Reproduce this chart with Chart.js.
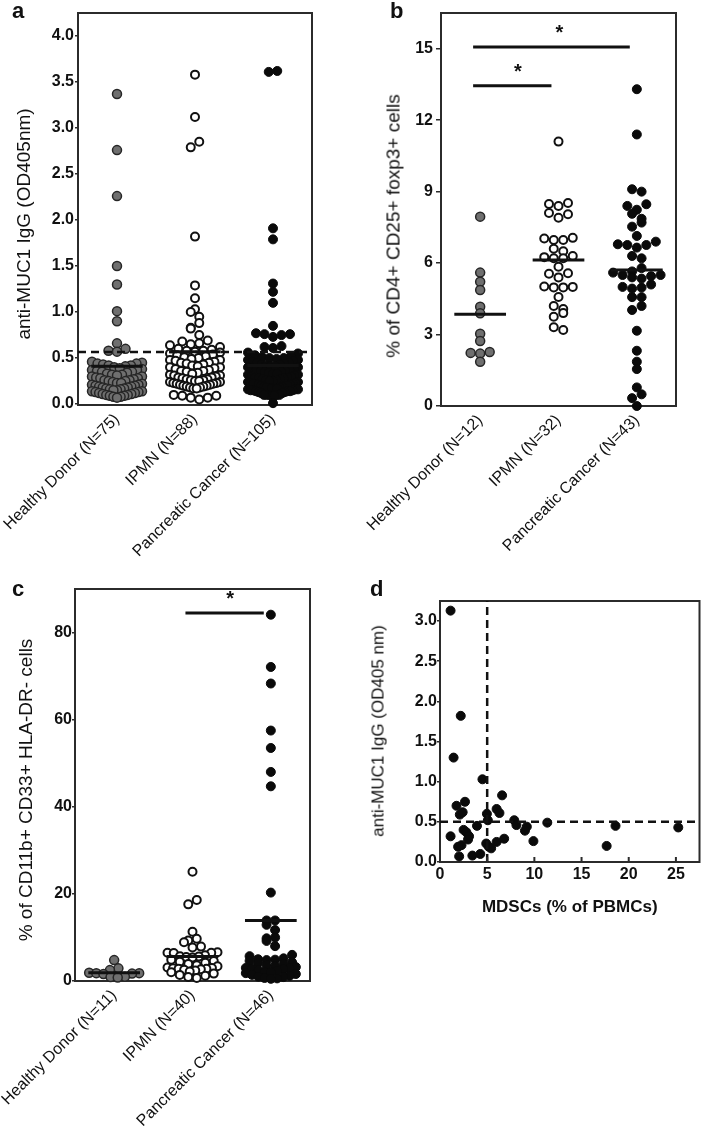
<!DOCTYPE html>
<html>
<head>
<meta charset="utf-8">
<title>Anti-MUC1 IgG, Treg and MDSC panels</title>
<script src="https://cdn.jsdelivr.net/npm/chart.js@4.4.1/dist/chart.umd.min.js"></script>
<style>
  body { margin: 0; background: #fff; }
  #fig { position: relative; width: 705px; height: 1133px; overflow: hidden; font-family: 'Liberation Sans', Arial, sans-serif; color: #111; }
  #fig canvas { position: absolute; }
  .tag { position: absolute; font-weight: bold; font-size: 22px; line-height: 22px; }
  .yt { position: absolute; white-space: nowrap; line-height: 1; transform: translate(-50%, -50%) rotate(-90deg); }
</style>
</head>
<body>
<div id="fig">
  <canvas id="pa" width="340" height="560" style="left:0;top:0"></canvas>
  <canvas id="pb" width="355" height="560" style="left:350px;top:0"></canvas>
  <canvas id="pc" width="340" height="563" style="left:0;top:570px"></canvas>
  <canvas id="pd" width="355" height="360" style="left:350px;top:570px"></canvas>

  <div class="tag" style="left:12px;top:0">a</div>
  <div class="tag" style="left:390px;top:0">b</div>
  <div class="tag" style="left:12px;top:578px">c</div>
  <div class="tag" style="left:370px;top:578px">d</div>

  <div class="yt" style="left:23px;top:224px;font-size:19px">anti-MUC1 IgG (OD405nm)</div>
  <div class="yt" style="left:393px;top:226px;font-size:19px">% of CD4+ CD25+ foxp3+ cells</div>
  <div class="yt" style="left:25px;top:790px;font-size:19px">% of CD11b+ CD33+ HLA-DR- cells</div>
  <div class="yt" style="left:378px;top:731px;font-size:17px">anti-MUC1 IgG (OD405 nm)</div>
</div>
<script>
const FONT = "'Liberation Sans', Arial, sans-serif";
const INK = '#111';

// ---- panel a: anti-MUC1 IgG by group
const catsA = ['Healthy Donor (N=75)', 'IPMN (N=88)', 'Pancreatic Cancer (N=105)'];
const healthyA = [3.37, 2.76, 2.26, 1.50, 1.30, 1.01, 0.90, 0.66, 0.60, 0.58, 0.57,
  0.46, 0.45, 0.44, 0.44, 0.43, 0.42, 0.42, 0.41, 0.40, 0.39, 0.38, 0.37, 0.37, 0.36, 0.35, 0.35,
  0.34, 0.33, 0.32, 0.32, 0.31, 0.30, 0.30, 0.29, 0.28, 0.28, 0.27, 0.26, 0.26, 0.25, 0.25, 0.24,
  0.23, 0.23, 0.22, 0.21, 0.21, 0.20, 0.20, 0.19, 0.19, 0.18, 0.18, 0.17, 0.17, 0.16, 0.16, 0.15,
  0.15, 0.14, 0.14, 0.13, 0.13, 0.12, 0.12, 0.11, 0.11, 0.10, 0.10, 0.09, 0.09, 0.08, 0.08, 0.07];
const ipmnA = [3.58, 3.12, 2.85, 2.79, 1.82, 1.29, 1.15, 1.03, 1.00, 0.95, 0.88, 0.83, 0.82, 0.75,
  0.69, 0.68, 0.66, 0.65, 0.64, 0.62,
  0.60, 0.59, 0.58, 0.58, 0.57, 0.56, 0.55, 0.54, 0.53, 0.52, 0.51, 0.50, 0.49, 0.48, 0.48, 0.47,
  0.46, 0.45, 0.45, 0.44, 0.43, 0.42, 0.41, 0.40, 0.40, 0.39, 0.38, 0.37, 0.36, 0.36, 0.35, 0.34,
  0.33, 0.32, 0.31, 0.31, 0.30, 0.29, 0.29, 0.28, 0.27, 0.27, 0.26, 0.26, 0.25, 0.25, 0.24, 0.24,
  0.23, 0.23, 0.22, 0.22, 0.21, 0.21, 0.20, 0.20, 0.19, 0.19, 0.18, 0.18, 0.17, 0.17,
  0.10, 0.09, 0.07, 0.05, 0.07, 0.09];
const cancerA = [3.61, 3.62, 1.91, 1.79, 1.31, 1.22, 1.10, 0.85, 0.77, 0.76, 0.76, 0.75, 0.73,
  0.63, 0.62, 0.61, 0.56, 0.55, 0.53,
  0.52, 0.51, 0.50, 0.50, 0.49, 0.48, 0.48, 0.47, 0.46, 0.45, 0.45, 0.44, 0.43, 0.43, 0.42, 0.41,
  0.41, 0.40, 0.40, 0.39, 0.38, 0.38, 0.37, 0.36, 0.36, 0.35, 0.35, 0.34, 0.33, 0.33, 0.32, 0.32,
  0.31, 0.30, 0.30, 0.29, 0.29, 0.28, 0.28, 0.27, 0.27, 0.26, 0.26, 0.25, 0.25, 0.24, 0.24, 0.23,
  0.23, 0.22, 0.22, 0.22, 0.21, 0.21, 0.20, 0.20, 0.20, 0.19, 0.19, 0.18, 0.18, 0.18, 0.17, 0.17,
  0.17, 0.16, 0.16, 0.16, 0.15, 0.15, 0.15, 0.14, 0.14, 0.14, 0.13, 0.13, 0.12, 0.12,
  0.10, 0.10, 0.10, 0.09, 0.10, 0.09, 0.10, 0.01];
const centerA = [0.41, 0.57, 0.42];
const cutoffA = 0.565;
const yTicksA = [0, 0.5, 1.0, 1.5, 2.0, 2.5, 3.0, 3.5, 4.0];

// ---- panel b: Treg %
const catsB = ['Healthy Donor (N=12)', 'IPMN (N=32)', 'Pancreatic Cancer (N=43)'];
const healthyB = [7.95, 5.60, 5.22, 4.87, 4.17, 3.89, 3.03, 2.73, 2.23, 2.27, 2.20, 1.86];
const ipmnB = [11.1, 8.52, 8.48, 8.40, 8.10, 8.05, 7.90, 7.06, 7.03, 6.97, 6.97, 6.60, 6.50, 6.30,
  6.25, 6.20, 6.20, 5.85, 5.57, 5.55, 5.40, 5.02, 5.00, 4.98, 4.98, 4.58, 4.20, 4.07, 3.90, 3.75,
  3.31, 3.19];
const cancerB = [13.3, 11.4, 9.1, 9.0, 8.47, 8.4, 8.24, 8.07, 7.86, 7.7, 7.53, 7.14, 6.9, 6.79,
  6.76, 6.76, 6.65, 6.3, 6.2, 5.79, 5.65, 5.6, 5.5, 5.5, 5.45, 5.4, 5.35, 5.1, 5.0, 4.97, 4.93,
  4.57, 4.57, 4.2, 4.03, 3.16, 2.32, 1.86, 1.55, 0.78, 0.49, 0.33, 0.0];
const centerB = [3.85, 6.13, 5.71];
const sigBarsB = [[0.91, 1.91, 13.45], [0.91, 2.91, 15.07]];
const starsB = [[1.48, 14.19], [2.01, 15.83]];
const yTicksB = [0, 3, 6, 9, 12, 15];

// ---- panel c: MDSC %
const catsC = ['Healthy Donor (N=11)', 'IPMN (N=40)', 'Pancreatic Cancer (N=46)'];
const healthyC = [4.8, 2.9, 2.5, 1.9, 1.8, 1.8, 1.7, 1.6, 1.0, 0.9, 0.8];
const ipmnC = [25.1, 18.6, 17.6, 11.3, 9.7, 9.3, 8.9, 7.9, 7.7, 6.6, 6.5, 6.5, 6.4,
  5.9, 5.7, 5.6, 5.5, 5.4, 4.9, 4.6, 4.4, 4.2, 3.9, 3.6, 3.4, 3.1, 3.0, 2.9, 2.8, 2.8, 2.7, 2.6,
  2.4, 2.2, 2.0, 1.7, 1.4, 1.2, 0.9, 0.7];
const cancerC = [84.1, 72.1, 68.3, 57.5, 53.5, 48.0, 44.7, 20.3, 13.9, 13.9, 12.9, 11.7, 10.0,
  9.8, 9.2, 8.0, 6.0, 5.7,
  5.2, 5.0, 4.9, 4.8, 4.6, 4.3, 4.1, 3.9, 3.6, 3.4, 3.2, 3.0, 2.9, 2.8, 2.7, 2.5, 2.3, 2.1, 2.0,
  1.8, 1.6, 1.4, 1.2, 1.0, 0.9, 0.7, 0.6, 0.5];
const centerC = [1.9, 5.6, 13.9];
const sigBarsC = [[1.91, 2.91, 84.5]];
const starsC = [[2.48, 88.6]];
const yTicksC = [0, 20, 40, 60, 80];

// ---- panel d: MDSC vs anti-MUC1 IgG
const mdscD = [1.12, 2.2, 1.44, 4.5, 6.58, 2.65, 1.75, 2.1, 2.4, 4.97, 6.0, 6.3, 5.07, 7.87, 8.1,
  9.2, 9.0, 11.37, 3.92, 2.5, 2.8, 3.08, 1.12, 2.97, 6.8, 6.0, 4.9, 9.9, 2.28, 1.92, 5.17, 5.42,
  2.03, 3.43, 4.27, 17.66, 18.6, 25.25];
const iggD = [3.13, 1.82, 1.30, 1.03, 0.83, 0.75, 0.70, 0.59, 0.62, 0.60, 0.66, 0.61, 0.52, 0.52,
  0.46, 0.44, 0.39, 0.49, 0.45, 0.40, 0.37, 0.32, 0.32, 0.28, 0.29, 0.25, 0.23, 0.26, 0.21, 0.19,
  0.19, 0.17, 0.07, 0.08, 0.10, 0.20, 0.45, 0.43];
const cutXD = 5;
const cutYD = 0.5;
const xTicksD = [0, 5, 10, 15, 20, 25];
const yTicksD = [0, 0.5, 1.0, 1.5, 2.0, 2.5, 3.0];

Chart.defaults.font.family = FONT;
Chart.defaults.color = INK;

// healthy donor, IPMN, pancreatic cancer
const groupStyle = [
  { bg: '#6f6f6f', line: '#262626', bw: 1.5, r: 4.5 },
  { bg: '#ffffff', line: '#111111', bw: 2, r: 4 },
  { bg: '#0a0a0a', line: '#0a0a0a', bw: 1, r: 4.5 }
];

const frame = {
  id: 'frame',
  beforeDatasetsDraw(chart) {
    const { ctx, chartArea: a } = chart;
    ctx.save();
    ctx.strokeStyle = '#2b2b2b';
    ctx.lineWidth = 2;
    ctx.strokeRect(a.left, a.top, a.right - a.left, a.bottom - a.top);
    ctx.restore();
  }
};

function starPlugin(list) {
  return {
    id: 'stars',
    afterDatasetsDraw(chart) {
      const { ctx, scales } = chart;
      ctx.save();
      ctx.font = 'bold 20px ' + FONT;
      ctx.fillStyle = INK;
      ctx.textAlign = 'center';
      ctx.textBaseline = 'alphabetic';
      const m = ctx.measureText('*');
      const shift = (m.actualBoundingBoxAscent - m.actualBoundingBoxDescent) / 2;
      list.forEach(([x, y]) => ctx.fillText('*', scales.x.getPixelForValue(x), scales.y.getPixelForValue(y) + shift));
      ctx.restore();
    }
  };
}

function innerTicks(values) {
  return {
    id: 'innerTicks',
    afterDatasetsDraw(chart) {
      const { ctx, chartArea: a, scales } = chart;
      ctx.save();
      ctx.strokeStyle = '#2b2b2b';
      ctx.lineWidth = 2;
      values.forEach(v => {
        const x = scales.x.getPixelForValue(v);
        ctx.beginPath();
        ctx.moveTo(x, a.bottom);
        ctx.lineTo(x, a.bottom - 5);
        ctx.stroke();
      });
      ctx.restore();
    }
  };
}

function seg(pts, width, dash) {
  return {
    type: 'line', data: pts.map(([x, y]) => ({ x, y })),
    borderColor: INK, borderWidth: width, borderDash: dash || [], borderCapStyle: 'butt',
    pointRadius: 0, pointHoverRadius: 0, fill: false, tension: 0, order: 0, clip: false
  };
}

// column scatter layout: points with close values share a row, lowest value in
// the middle and higher ones outward (gives the chevron rows), squeezed to a max width
function swarm(chart, center, vals, o) {
  const xs = chart.scales.x, ys = chart.scales.y;
  const cx = xs.getPixelForValue(center);
  const idx = vals.map((v, i) => i).sort((a, b) => vals[a] - vals[b]);
  const rows = [];
  let cur = null;
  idx.forEach(i => {
    const py = ys.getPixelForValue(vals[i]);
    if (!cur || Math.abs(py - cur.y0) > o.rowH) {
      cur = { y0: py, items: [] };
      rows.push(cur);
    }
    cur.items.push(i);
  });
  const out = [];
  rows.forEach((r, ri) => {
    const n = r.items.length;
    const sp = n > 1 ? Math.min(o.step, 2 * o.maxHalf / (n - 1)) : 0;
    const side = ri % 2 ? 1 : -1;
    const slots = r.items.map((_, k) => (k - (n - 1) / 2) * sp)
      .sort((a, b) => (Math.abs(a) - Math.abs(b)) || side * (a - b));
    r.items.forEach((i, k) => {
      out[i] = { x: xs.getValueForPixel(cx + slots[k]), y: vals[i] };
    });
  });
  return out;
}

function yAxis(o) {
  return {
    type: 'linear', min: o.yMin, max: o.yMax,
    afterBuildTicks: s => { s.ticks = o.yTicks.map(v => ({ value: v })); },
    afterFit: s => { s.width = o.yWidth; s.paddingTop = 0; s.paddingBottom = 0; },
    grid: { drawOnChartArea: false, drawTicks: true, tickLength: o.tickLen, color: '#2b2b2b', lineWidth: 1.5 },
    border: { display: false },
    ticks: { padding: o.tickPad, color: INK, font: { size: 16, weight: 'bold' }, callback: o.yFmt }
  };
}

function dotChart(id, o) {
  const ds = [];
  o.groups.forEach((vals, g) => {
    const st = groupStyle[g];
    ds.push({
      type: 'scatter', data: vals.map(v => ({ x: g + 1, y: v })),
      backgroundColor: st.bg, borderColor: st.line, borderWidth: st.bw,
      pointRadius: st.r, pointHoverRadius: st.r, order: 2, clip: false
    });
  });
  o.centers.forEach((m, g) => ds.push(seg([[g + 1 - 0.33, m], [g + 1 + 0.33, m]], 3)));
  (o.bars || []).forEach(([x1, x2, y]) => ds.push(seg([[x1, y], [x2, y]], 3)));
  if (o.cutoff != null) ds.push(seg([[0.5, o.cutoff], [3.5, o.cutoff]], 2.5, [8, 5]));

  const chart = new Chart(document.getElementById(id), {
    type: 'scatter',
    data: { datasets: ds },
    options: {
      responsive: false, animation: false, devicePixelRatio: 1,
      layout: { padding: o.pad },
      plugins: { legend: { display: false }, tooltip: { enabled: false } },
      scales: {
        x: {
          type: 'linear', min: 0.5, max: 3.5,
          afterBuildTicks: s => { s.ticks = [1, 2, 3].map(v => ({ value: v })); },
          afterFit: s => { s.height = o.xHeight; s.paddingLeft = 0; s.paddingRight = 0; },
          grid: { display: false, drawTicks: false },
          border: { display: false },
          ticks: {
            autoSkip: false, minRotation: 45, maxRotation: 45, padding: 5, color: INK,
            font: { size: 16 }, callback: v => o.cats[Math.round(v) - 1]
          }
        },
        y: yAxis(o)
      }
    },
    plugins: [frame, starPlugin(o.stars || [])]
  });
  o.groups.forEach((vals, g) => { chart.data.datasets[g].data = swarm(chart, g + 1, vals, o.swarm); });
  chart.update('none');
  return chart;
}

dotChart('pa', {
  cats: catsA, groups: [healthyA, ipmnA, cancerA], centers: centerA, cutoff: cutoffA,
  yMin: -0.01, yMax: 4.25, yTicks: yTicksA, yFmt: v => v.toFixed(1),
  pad: { left: 0, top: 13, right: 28, bottom: 0 }, yWidth: 78, xHeight: 155,
  tickLen: 3, tickPad: 1, swarm: { rowH: 7, step: 8.5, maxHalf: 25 }
});

dotChart('pb', {
  cats: catsB, groups: [healthyB, ipmnB, cancerB], centers: centerB,
  bars: sigBarsB, stars: starsB,
  yMin: 0, yMax: 16.5, yTicks: yTicksB, yFmt: v => String(v),
  pad: { left: 0, top: 13, right: 29, bottom: 0 }, yWidth: 91, xHeight: 154,
  tickLen: 5, tickPad: 3, swarm: { rowH: 6, step: 9.5, maxHalf: 25 }
});

dotChart('pc', {
  cats: catsC, groups: [healthyC, ipmnC, cancerC], centers: centerC,
  bars: sigBarsC, stars: starsC,
  yMin: 0, yMax: 90, yTicks: yTicksC, yFmt: v => String(v),
  pad: { left: 0, top: 19, right: 30, bottom: 0 }, yWidth: 75, xHeight: 152,
  tickLen: 3, tickPad: 0, swarm: { rowH: 6, step: 8.5, maxHalf: 25 }
});

// panel d scatter
new Chart(document.getElementById('pd'), {
  type: 'scatter',
  data: {
    datasets: [
      seg([[cutXD, 0], [cutXD, 3.25]], 2.5, [8, 5]),
      seg([[0, cutYD], [27.5, cutYD]], 2.5, [8, 5]),
      {
        type: 'scatter', data: mdscD.map((x, i) => ({ x, y: iggD[i] })),
        backgroundColor: '#0a0a0a', borderColor: '#0a0a0a', borderWidth: 1,
        pointRadius: 4.5, order: 2, clip: false
      }
    ]
  },
  options: {
    responsive: false, animation: false, devicePixelRatio: 1,
    layout: { padding: { left: 0, top: 31, right: 3, bottom: 0 } },
    plugins: { legend: { display: false }, tooltip: { enabled: false } },
    scales: {
      x: {
        type: 'linear', min: 0, max: 27.5,
        afterBuildTicks: s => { s.ticks = xTicksD.map(v => ({ value: v })); },
        afterFit: s => { s.height = 68; s.paddingLeft = 0; s.paddingRight = 0; },
        grid: { display: false, drawTicks: false },
        border: { display: false },
        ticks: { autoSkip: false, maxRotation: 0, padding: 3, color: INK, font: { size: 16, weight: 'bold' } },
        title: { display: true, text: 'MDSCs (% of PBMCs)', color: INK, font: { size: 17, weight: 'bold' }, padding: { top: 0, bottom: 12 } }
      },
      y: yAxis({ yMin: 0, yMax: 3.25, yTicks: yTicksD, yFmt: v => v.toFixed(1), yWidth: 90, tickLen: 3, tickPad: 0 })
    }
  },
  plugins: [frame, innerTicks(xTicksD.slice(1))]
});
</script>
</body>
</html>
